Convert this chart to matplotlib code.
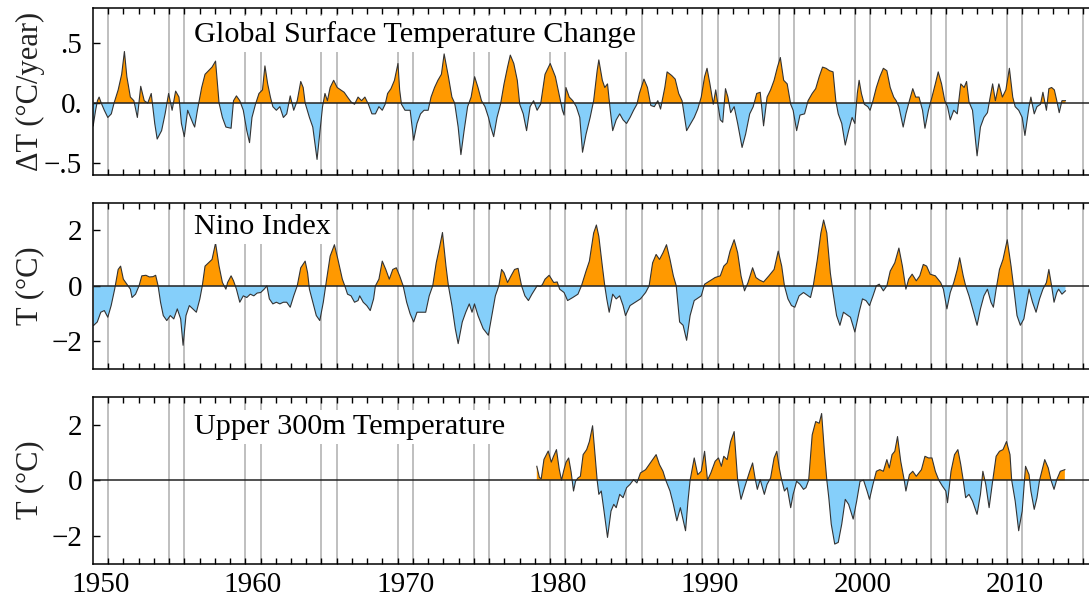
import numpy as np
import matplotlib
matplotlib.use('Agg')
import matplotlib.pyplot as plt

plt.rcParams['font.family'] = ['Liberation Serif', 'DejaVu Serif']

# global surface temperature change (deg C / year)
gst_years = [1949.52, 1949.68, 1949.80, 1949.91, 1950.05, 1950.25, 1950.48, 1950.71, 1950.89, 1951.16,
             1951.39, 1951.57, 1951.73, 1951.96, 1952.19, 1952.42, 1952.64, 1952.87, 1953.10, 1953.33,
             1953.56, 1953.72, 1954.01, 1954.24, 1954.47, 1954.70, 1954.93, 1955.15, 1955.31, 1955.50,
             1955.72, 1956.07, 1956.18, 1956.36, 1956.45, 1956.64, 1956.86, 1957.09, 1957.32, 1957.55,
             1957.78, 1958.00, 1958.23, 1958.57, 1958.73, 1958.92, 1959.14, 1959.37, 1959.60, 1959.78,
             1959.94, 1960.17, 1960.40, 1960.63, 1960.79, 1960.97, 1961.15, 1961.31, 1961.54, 1961.77,
             1962.00, 1962.22, 1962.45, 1962.68, 1962.91, 1963.14, 1963.30, 1963.43, 1963.71, 1963.93,
             1964.21, 1964.39, 1964.57, 1964.73, 1964.89, 1965.07, 1965.30, 1965.53, 1965.76, 1965.99,
             1966.21, 1966.44, 1966.67, 1966.90, 1967.13, 1967.35, 1967.58, 1967.81, 1968.04, 1968.27,
             1968.49, 1968.68, 1968.84, 1969.06, 1969.29, 1969.52, 1969.63, 1969.75, 1969.98, 1970.32,
             1970.55, 1970.77, 1971.00, 1971.23, 1971.50, 1971.69, 1971.92, 1972.14, 1972.37, 1972.55,
             1972.83, 1973.06, 1973.24, 1973.47, 1973.65, 1973.86, 1974.09, 1974.32, 1974.55, 1974.77,
             1975.00, 1975.23, 1975.46, 1975.61, 1975.80, 1976.02, 1976.25, 1976.48, 1976.71, 1976.89,
             1977.12, 1977.35, 1977.51, 1977.74, 1977.96, 1978.19, 1978.42, 1978.65, 1978.88,
             1979.17, 1979.51, 1979.85, 1980.13, 1980.31, 1980.42, 1980.54, 1980.76, 1980.99, 1981.22,
             1981.45, 1981.63, 1981.86, 1982.13, 1982.36, 1982.59, 1982.70, 1982.93, 1983.09, 1983.27,
             1983.45, 1983.61, 1983.84, 1984.07, 1984.29, 1984.52, 1984.75, 1984.98, 1985.20, 1985.36,
             1985.66, 1985.89, 1986.11, 1986.34, 1986.57, 1986.75, 1987.03, 1987.18, 1987.48, 1987.71,
             1987.94, 1988.16, 1988.46, 1988.73, 1988.96, 1989.19, 1989.42, 1989.64, 1989.80, 1989.99,
             1990.21, 1990.37, 1990.67, 1990.83, 1991.01, 1991.17, 1991.35, 1991.58, 1991.81, 1992.10,
             1992.33, 1992.60, 1992.83, 1993.06, 1993.29, 1993.51, 1993.74, 1993.97, 1994.20, 1994.42,
             1994.61, 1994.83, 1995.06, 1995.29, 1995.45, 1995.68, 1995.90, 1996.20, 1996.43, 1996.70,
             1996.93, 1997.16, 1997.38, 1997.61, 1997.84, 1998.07, 1998.25, 1998.41, 1998.64, 1998.87,
             1999.09, 1999.32, 1999.50, 1999.66, 1999.78, 1999.93, 2000.12, 2000.35, 2000.50, 2000.69,
             2000.91, 2001.14, 2001.37, 2001.60, 2001.82, 2002.05, 2002.21, 2002.39, 2002.67, 2002.85,
             2003.08, 2003.30, 2003.49, 2003.71, 2003.94, 2004.10, 2004.33, 2004.56, 2004.78, 2004.97,
             2005.19, 2005.40, 2005.58, 2005.76, 2005.99, 2006.22, 2006.45, 2006.67, 2006.83, 2006.99,
             2007.22, 2007.52, 2007.74, 2007.97, 2008.20, 2008.38, 2008.54, 2008.72, 2008.95, 2009.18,
             2009.41, 2009.64, 2009.86, 2010.02, 2010.25, 2010.48, 2010.66, 2010.93, 2011.05, 2011.27,
             2011.45, 2011.68, 2011.84, 2012.07, 2012.23, 2012.41, 2012.59, 2012.75, 2012.91, 2013.09,
             2013.32]
gst_vals = [-0.19, -0.06, 0.02, 0.05, 0.00, -0.06, -0.12, -0.09, 0.00, 0.11,
            0.24, 0.43, 0.22, 0.05, 0.02, -0.12, 0.14, 0.02, 0.00, 0.08,
            -0.17, -0.30, -0.23, -0.09, 0.08, -0.06, 0.10, 0.05, -0.17, -0.28,
            -0.06, -0.17, -0.20, -0.06, 0.00, 0.13, 0.24, 0.27, 0.30, 0.35,
            0.00, -0.12, -0.20, -0.21, 0.02, 0.06, 0.02, -0.06, -0.23, -0.33,
            -0.12, -0.01, 0.08, 0.11, 0.31, 0.16, 0.05, -0.03, -0.06, -0.03,
            -0.12, -0.09, 0.06, -0.06, 0.02, 0.18, 0.13, 0.00, -0.12, -0.20,
            -0.47, -0.25, -0.03, 0.08, 0.02, 0.13, 0.19, 0.13, 0.11, 0.09,
            0.05, 0.01, -0.01, 0.05, 0.02, 0.05, -0.01, -0.09, -0.09, -0.03,
            -0.06, -0.01, 0.08, 0.12, 0.19, 0.33, 0.11, -0.01, -0.06, -0.06,
            -0.31, -0.17, -0.09, -0.06, -0.06, 0.05, 0.13, 0.19, 0.24, 0.41,
            0.22, 0.05, 0.00, -0.20, -0.43, -0.23, -0.03, 0.05, 0.22, 0.13,
            0.02, -0.03, -0.12, -0.20, -0.28, -0.12, -0.01, 0.16, 0.30, 0.40,
            0.33, 0.19, -0.01, -0.09, -0.23, -0.03, 0.02, -0.06, -0.01,
            0.24, 0.33, 0.22, 0.05, -0.06, -0.10, 0.13, 0.05, 0.02, -0.03,
            -0.12, -0.41, -0.26, -0.12, 0.02, 0.27, 0.36, 0.19, 0.13, 0.16,
            -0.06, -0.23, -0.14, -0.09, -0.14, -0.17, -0.12, -0.06, -0.01, 0.08,
            0.20, 0.13, -0.02, -0.03, 0.02, -0.05, 0.13, 0.26, 0.23, 0.20,
            0.08, 0.02, -0.23, -0.17, -0.12, -0.05, 0.05, 0.22, 0.29, 0.16,
            -0.01, 0.11, -0.14, -0.16, 0.12, 0.05, -0.08, -0.03, -0.17, -0.37,
            -0.26, -0.09, -0.03, 0.08, 0.09, -0.19, 0.05, 0.11, 0.19, 0.30,
            0.38, 0.19, 0.16, -0.01, -0.06, -0.23, -0.10, -0.09, 0.02, 0.08,
            0.12, 0.22, 0.30, 0.29, 0.27, 0.26, 0.02, -0.09, -0.17, -0.35,
            -0.23, -0.12, -0.17, 0.08, 0.19, 0.08, -0.01, -0.03, -0.06, 0.02,
            0.13, 0.22, 0.29, 0.27, 0.13, 0.05, 0.02, -0.03, -0.20, -0.09,
            0.02, 0.12, 0.05, 0.05, -0.06, -0.21, -0.06, 0.05, 0.16, 0.26,
            0.16, 0.02, -0.03, -0.14, -0.06, -0.09, 0.16, 0.13, 0.18, 0.01,
            -0.06, -0.44, -0.20, -0.12, -0.08, 0.05, 0.16, 0.02, 0.16, 0.05,
            0.11, 0.29, 0.05, -0.03, -0.06, -0.12, -0.27, -0.03, 0.05, -0.09,
            -0.03, -0.01, 0.09, -0.06, 0.12, 0.13, 0.11, 0.02, -0.08, 0.02,
            0.02]

# nino index (deg C)
nino_years = [1949.56, 1949.79, 1950.02, 1950.25, 1950.48, 1950.70, 1950.93, 1951.16, 1951.32, 1951.50,
              1951.73, 1951.96, 1952.07, 1952.30, 1952.53, 1952.71, 1952.98, 1953.21, 1953.44, 1953.62,
              1953.78, 1953.94, 1954.12, 1954.35, 1954.58, 1954.81, 1955.04, 1955.26, 1955.42, 1955.61,
              1955.83, 1956.06, 1956.29, 1956.52, 1956.68, 1956.86, 1957.09, 1957.32, 1957.55, 1957.78,
              1958.00, 1958.23, 1958.34, 1958.57, 1958.73, 1958.92, 1959.14, 1959.37, 1959.60, 1959.83,
              1960.06, 1960.28, 1960.51, 1960.74, 1960.92, 1961.08, 1961.31, 1961.54, 1961.77, 1962.00,
              1962.22, 1962.45, 1962.68, 1962.91, 1963.14, 1963.43, 1963.59, 1963.71, 1963.93, 1964.16,
              1964.39, 1964.62, 1964.84, 1965.07, 1965.35, 1965.58, 1965.87, 1966.03, 1966.21, 1966.44,
              1966.67, 1966.90, 1967.01, 1967.24, 1967.47, 1967.70, 1967.92, 1968.04, 1968.27, 1968.49,
              1968.72, 1968.95, 1969.18, 1969.41, 1969.63, 1969.86, 1970.09, 1970.32, 1970.55, 1970.77,
              1971.00, 1971.34, 1971.57, 1971.80, 1972.03, 1972.26, 1972.44, 1972.67, 1972.83, 1973.06,
              1973.28, 1973.47, 1973.74, 1973.97, 1974.20, 1974.38, 1974.54, 1974.77, 1975.11, 1975.45,
              1975.68, 1975.91, 1976.14, 1976.32, 1976.48, 1976.71, 1976.94, 1977.17, 1977.40, 1977.63,
              1977.85, 1978.08, 1978.31, 1978.65, 1978.88, 1979.00,
              1979.17, 1979.44, 1979.74, 1979.97, 1980.13, 1980.42, 1980.65, 1980.99, 1981.33, 1981.56,
              1981.86, 1982.08, 1982.36, 1982.54, 1982.70, 1982.93, 1983.09, 1983.22, 1983.38, 1983.61,
              1983.84, 1984.07, 1984.29, 1984.45, 1984.75, 1985.09, 1985.43, 1985.77, 1986.00, 1986.23,
              1986.46, 1986.68, 1986.91, 1987.14, 1987.37, 1987.59, 1987.78, 1988.00, 1988.23, 1988.46,
              1988.69, 1988.96, 1989.42, 1989.64, 1989.99, 1990.33, 1990.67, 1990.90, 1991.12, 1991.31,
              1991.58, 1991.81, 1992.03, 1992.26, 1992.49, 1992.79, 1993.01, 1993.24, 1993.51, 1993.86,
              1994.20, 1994.47, 1994.70, 1994.88, 1995.11, 1995.34, 1995.56, 1995.84, 1996.13, 1996.59,
              1996.77, 1997.04, 1997.27, 1997.45, 1997.66, 1997.89, 1998.07, 1998.30, 1998.52, 1998.75,
              1999.21, 1999.50, 1999.78, 2000.00, 2000.23, 2000.46, 2000.69, 2000.91, 2001.10, 2001.37,
              2001.60, 2001.82, 2002.12, 2002.39, 2002.62, 2002.85, 2003.03, 2003.26, 2003.53, 2003.76,
              2003.99, 2004.21, 2004.44, 2004.78, 2005.13, 2005.31, 2005.54, 2005.76, 2005.99, 2006.22,
              2006.38, 2006.61, 2006.77, 2006.99, 2007.29, 2007.52, 2007.74, 2007.97, 2008.20, 2008.43,
              2008.59, 2008.77, 2008.99, 2009.22, 2009.50, 2009.75, 2009.91, 2010.14, 2010.36, 2010.59,
              2010.93, 2011.16, 2011.39, 2011.62, 2011.84, 2012.07, 2012.23, 2012.41, 2012.57, 2012.75,
              2012.87, 2013.09, 2013.32]
nino_vals = [-1.42, -1.30, -0.95, -0.89, -1.13, -0.71, -0.12, 0.59, 0.71, 0.24,
             0.06, -0.12, -0.42, -0.30, 0.00, 0.36, 0.38, 0.32, 0.33, 0.38,
             0.00, -0.59, -1.07, -1.25, -1.07, -1.19, -0.83, -1.19, -2.14, -1.07,
             -0.71, -0.83, -0.95, -0.47, 0.00, 0.71, 0.83, 0.95, 1.54, 0.71,
             0.12, -0.12, 0.12, 0.36, 0.18, -0.12, -0.59, -0.36, -0.42, -0.30,
             -0.36, -0.26, -0.24, -0.12, 0.00, -0.47, -0.65, -0.59, -0.65, -0.59,
             -0.59, -0.77, -0.36, 0.00, 0.65, 0.89, 0.47, -0.12, -0.59, -1.07,
             -1.25, -0.59, 0.24, 1.07, 1.48, 0.95, 0.24, 0.00, -0.30, -0.36,
             -0.59, -0.53, -0.36, -0.59, -0.71, -0.89, -0.47, 0.00, 0.24, 0.89,
             0.59, 0.24, 0.59, 0.65, 0.36, 0.00, -0.59, -1.01, -1.30, -0.95,
             -0.95, -0.95, -0.36, 0.00, 0.83, 1.42, 1.92, 0.71, 0.00, -0.71,
             -1.54, -2.08, -1.30, -0.95, -0.65, -0.95, -0.65, -1.07, -1.54, -1.78,
             -1.07, -0.36, 0.00, 0.59, 0.47, 0.12, 0.36, 0.59, 0.63, 0.00,
             -0.36, -0.53, -0.30, 0.00, -0.02, 0.05,
             0.24, 0.38, 0.12, 0.14, -0.12, -0.24, -0.53, -0.42, -0.30, 0.00,
             0.53, 0.89, 1.90, 2.19, 1.78, 0.71, 0.00, -0.47, -0.95, -0.30,
             -0.47, -0.36, -0.71, -1.07, -0.71, -0.59, -0.47, -0.24, 0.00, 0.83,
             1.13, 0.95, 1.19, 1.48, 0.95, 0.36, 0.00, -1.30, -1.42, -1.96,
             -1.07, -0.53, -0.36, 0.06, 0.18, 0.30, 0.36, 0.71, 0.83, 1.25,
             1.66, 1.19, 0.36, -0.18, 0.12, 0.65, 0.30, 0.21, 0.14, 0.36,
             0.59, 1.25, 0.71, 0.00, -0.47, -0.71, -0.77, -0.36, -0.24, -0.42,
             0.00, 0.95, 1.90, 2.37, 1.90, 0.47, -0.24, -1.07, -1.42, -0.95,
             -1.13, -1.66, -0.95, -0.47, -0.53, -0.71, -0.36, 0.00, 0.06, -0.18,
             0.00, 0.53, 0.83, 1.36, 0.71, -0.12, 0.24, 0.42, 0.18, 0.36,
             0.77, 0.71, 0.42, 0.36, 0.12, -0.12, -0.83, -0.24, 0.12, 0.59,
             1.01, 0.36, 0.00, -0.36, -0.95, -1.42, -0.83, -0.36, -0.12, -0.59,
             -0.77, -0.12, 0.59, 0.95, 1.66, 0.71, 0.00, -1.07, -1.42, -1.19,
             -0.12, -0.59, -0.95, -0.47, -0.12, 0.12, 0.59, 0.00, -0.59, -0.24,
             -0.12, -0.30, -0.18]

# upper 300m ocean temperature (deg C)
ocean_years = [1978.63, 1978.80, 1978.92, 1979.10, 1979.38, 1979.58, 1979.72, 1979.92, 1980.10, 1980.25,
               1980.40, 1980.55, 1980.72, 1980.88, 1981.04, 1981.17, 1981.33, 1981.49, 1981.67, 1981.90,
               1982.08, 1982.29, 1982.47, 1982.59, 1982.70, 1982.86, 1983.04, 1983.27, 1983.50, 1983.68,
               1983.84, 1984.07, 1984.29, 1984.52, 1984.75, 1984.98, 1985.20, 1985.43, 1985.77, 1986.00,
               1986.23, 1986.46, 1986.68, 1986.91, 1987.09, 1987.37, 1987.59, 1987.82, 1988.05, 1988.39,
               1988.55, 1988.69, 1988.96, 1989.19, 1989.42, 1989.64, 1989.83, 1990.05, 1990.33, 1990.55,
               1990.74, 1990.90, 1991.12, 1991.35, 1991.58, 1991.81, 1992.03, 1992.26, 1992.60, 1992.79,
               1992.95, 1993.10, 1993.29, 1993.56, 1993.74, 1993.97, 1994.20, 1994.38, 1994.54, 1994.70,
               1994.88, 1995.06, 1995.29, 1995.45, 1995.68, 1995.90, 1996.13, 1996.29, 1996.47, 1996.70,
               1996.93, 1997.16, 1997.32, 1997.50, 1997.66, 1997.79, 1997.95, 1998.18, 1998.41, 1998.64,
               1998.87, 1999.09, 1999.39, 1999.62, 1999.84, 2000.07, 2000.30, 2000.46, 2000.69, 2000.91,
               2001.14, 2001.37, 2001.60, 2001.76, 2001.94, 2002.12, 2002.30, 2002.51, 2002.74, 2002.85,
               2003.08, 2003.30, 2003.53, 2003.87, 2004.10, 2004.33, 2004.56, 2004.78, 2005.01, 2005.24,
               2005.47, 2005.58, 2005.81, 2006.04, 2006.26, 2006.45, 2006.61, 2006.77, 2006.99, 2007.22,
               2007.52, 2007.74, 2007.90, 2008.09, 2008.31, 2008.54, 2008.77, 2008.99, 2009.22, 2009.45,
               2009.68, 2009.79, 2010.02, 2010.25, 2010.48, 2010.70, 2010.93, 2011.05, 2011.27, 2011.45,
               2011.62, 2011.96, 2012.19, 2012.37, 2012.57, 2012.75, 2012.98, 2013.28]
ocean_vals = [0.50, 0.10, 0.05, 0.75, 1.05, 0.65, 0.85, 1.10, 0.40, 0.00,
              0.35, 0.65, 0.80, 0.30, -0.39, -0.04, 0.08, 0.14, 0.92, 1.10,
              1.39, 1.96, 0.80, 0.00, -0.51, -0.39, -1.11, -2.06, -1.11, -0.87,
              -0.99, -0.51, -0.63, -0.27, -0.15, 0.02, -0.10, 0.26, 0.38, 0.56,
              0.74, 0.92, 0.56, 0.32, 0.00, -0.39, -0.87, -1.46, -0.99, -1.82,
              -0.75, 0.00, 0.80, 0.20, 0.32, 1.04, 0.00, 0.26, 0.68, 0.80,
              0.50, 0.86, 0.74, 1.39, 1.75, 0.00, -0.69, -0.27, 0.32, 0.62,
              0.08, -0.33, 0.02, -0.51, -0.15, 0.08, 0.80, 1.04, 0.44, 0.00,
              -0.39, -0.27, -0.99, -0.51, -0.04, -0.15, -0.33, -0.27, 0.00, 1.63,
              2.11, 2.05, 2.40, 1.04, 0.00, -0.63, -1.58, -2.30, -2.24, -1.58,
              -0.69, -0.87, -1.40, -0.75, -0.04, 0.00, -0.39, -0.69, -0.15, 0.32,
              0.38, 0.32, 0.74, 0.44, 0.92, 1.04, 1.57, 0.68, 0.00, -0.39,
              0.20, 0.32, 0.14, 0.38, 0.86, 0.80, 0.80, 0.32, 0.00, -0.21,
              -0.39, -0.81, 0.32, 0.92, 1.10, 0.56, 0.00, -0.63, -0.51, -0.75,
              -1.23, -0.51, 0.32, -0.15, -0.99, -0.04, 0.86, 1.04, 1.10, 1.39,
              0.92, 0.00, -0.75, -1.82, -1.11, 0.50, 0.20, -0.39, -1.05, -0.63,
              0.00, 0.74, 0.44, 0.00, -0.33, 0.02, 0.32, 0.38]

# gray marker lines
event_years = [1950.5, 1954.5, 1955.5, 1959.5, 1960.5, 1964.5, 1965.5, 1969.5, 1970.5, 1974.5,
               1975.5, 1979.5, 1980.5, 1984.5, 1985.5, 1989.5, 1990.5, 1994.5, 1995.5, 1999.5,
               2000.5, 2004.5, 2005.5, 2009.5, 2010.5, 2014.5]
decade_labels = [1950, 1960, 1970, 1980, 1990, 2000, 2010]

titles = ['Global Surface Temperature Change', 'Nino Index', 'Upper 300m Temperature']
ylabels = ['\u0394T (\u00b0C/year)', 'T (\u00b0C)', 'T (\u00b0C)']
title_y = [0.575, 2.13, 1.92]
ylims = [(-0.6, 0.79), (-3, 3), (-3, 3)]
ytick_vals = [[-0.5, 0.0, 0.5], [-2, 0, 2], [-2, 0, 2]]
ytick_text = [['\u2212.5', '0.', '.5'], ['\u22122', '0', '2'], ['\u22122', '0', '2']]

ORANGE = '#FF9900'
BLUE = '#85CFFA'
FS = 21

fig = plt.figure(figsize=(10.89, 6.0), dpi=100)
bottoms = [0.7083, 0.3847, 0.0608]
series = [(gst_years, gst_vals), (nino_years, nino_vals), (ocean_years, ocean_vals)]

for i, (xs, ys) in enumerate(series):
    ax = fig.add_axes([0.0857, bottoms[i], 0.9232, 0.2778])
    x = np.array(xs)
    y = np.array(ys)
    ax.set_xlim(1949.53, 2015.5)
    ax.set_ylim(*ylims[i])
    for yr in event_years:
        ax.axvline(yr, color='#b4b4b4', lw=1.2, zorder=0)
    ax.fill_between(x, y, 0, where=y >= 0, interpolate=True, color=ORANGE, lw=0, zorder=1)
    ax.fill_between(x, y, 0, where=y <= 0, interpolate=True, color=BLUE, lw=0, zorder=1)
    ax.plot(x, y, color='#333333', lw=0.8, zorder=2)
    ax.axhline(0, color='#222222', lw=1.1, zorder=3)
    ax.text(1956.13, title_y[i], titles[i], fontsize=21.8, ha='left', va='center', zorder=4,
            bbox=dict(fc='white', ec='none', pad=3))
    ax.text(-0.063, 0.5, ylabels[i], transform=ax.transAxes, rotation=90, fontsize=22,
            ha='center', va='center', color='#222222')

    ax.set_xticks(decade_labels)
    ax.set_xticks(np.arange(1950.5, 2015, 1.0), minor=True)
    ax.tick_params(axis='x', which='major', length=0, pad=6, labelsize=FS)
    ax.tick_params(axis='x', which='minor', direction='in', length=4, width=1, top=True, bottom=True)
    if i < 2:
        ax.set_xticklabels([])
    ax.set_yticks(ytick_vals[i])
    ax.set_yticklabels(ytick_text[i])
    ax.tick_params(axis='y', direction='in', length=5, width=1, pad=8, labelsize=FS)
    for sp in ax.spines.values():
        sp.set_linewidth(1.1)

fig.savefig('out.png', dpi=100)
